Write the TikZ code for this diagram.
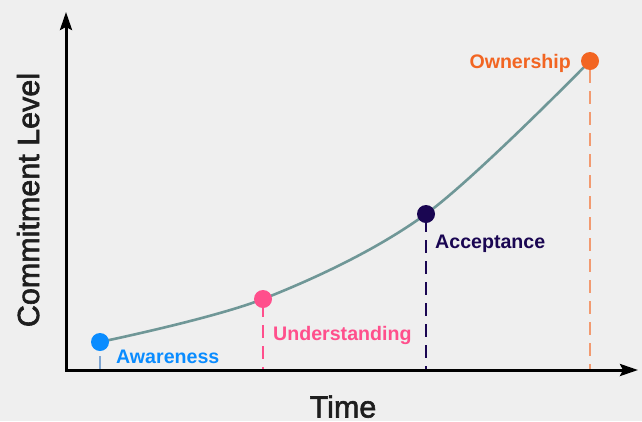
\documentclass[tikz,border=0pt]{standalone}
\usepackage{fontspec}
\setmainfont{Liberation Sans}
\newfontfamily\titlefont[FakeBold=2]{Liberation Sans}
\usetikzlibrary{arrows.meta}
\definecolor{bgc}{HTML}{EFEFEF}
\definecolor{curvec}{HTML}{6F9797}
\definecolor{awc}{HTML}{0A8CFF}
\definecolor{awline}{HTML}{7FA6D3}
\definecolor{unc}{HTML}{FF4F8C}
\definecolor{acc}{HTML}{1A0652}
\definecolor{owc}{HTML}{F26522}
\definecolor{owline}{HTML}{F29A70}
\definecolor{titlec}{HTML}{1E1E1E}
\begin{document}
\begin{tikzpicture}[x=1pt,y=-1pt,
  axisline/.style={line width=3pt,line join=miter,
    {Stealth[length=18pt,width=12pt,inset=3pt]}-{Stealth[length=18pt,width=12pt,inset=3pt]}},
  curve/.style={draw=curvec,line width=2.6pt},
  dot/.style={circle,inner sep=0pt,minimum size=18pt},
  drop/.style={line width=1.5pt,dash pattern=on 13pt off 8pt,dash phase=4pt},
  lbl/.style={font=\bfseries\fontsize{19.6}{19.6}\selectfont,inner sep=0pt,anchor=base west},
  axtitle/.style={font=\titlefont\fontsize{30.5}{30.5}\selectfont,text=titlec,inner sep=0pt,anchor=base}]
  % canvas
  \fill[bgc] (0,0) rectangle (642,421);
  \useasboundingbox (0,0) rectangle (642,421);
  % axes
  \coordinate (o) at (66,370);
  \coordinate (ytip) at (66,12);
  \coordinate (xtip) at (638,370);
  % stage positions
  \coordinate (awp) at (100,342);
  \coordinate (unp) at (263,299);
  \coordinate (acp) at (426,214);
  \coordinate (owp) at (590,61);
  % growth curve
  \draw[curve] plot[smooth,tension=0.55] coordinates {(awp) (unp) (acp) (owp)};
  % stage markers
  \node[dot,fill=awc] (aw) at (awp) {};
  \node[dot,fill=unc] (un) at (unp) {};
  \node[dot,fill=acc] (ac) at (acp) {};
  \node[dot,fill=owc] (ow) at (owp) {};
  % drop lines to the time axis
  \draw[drop,draw=awline,dash phase=16pt] (aw) -- (aw |- o);
  \draw[drop,draw=unc] (un) -- (un |- o);
  \draw[drop,draw=acc] (ac) -- (ac |- o);
  \draw[drop,draw=owline,dash phase=0pt] (ow) -- (ow |- o);
  \draw[axisline] (ytip) -- (o) -- (xtip);
  % stage labels
  \node[lbl,text=awc] (awl) at (116,363) {Awareness};
  \node[lbl,text=unc] (unl) at (273,340) {Understanding};
  \node[lbl,text=acc] (acl) at (435,248) {Acceptance};
  \node[lbl,text=owc,anchor=base east] (owl) at (571,68) {Ownership};
  % axis titles
  \node[axtitle] (xt) at (343,417.5) {Time};
  \node[axtitle,rotate=90] (yt) at (39,200) {Commitment Level};
\end{tikzpicture}
\end{document}
